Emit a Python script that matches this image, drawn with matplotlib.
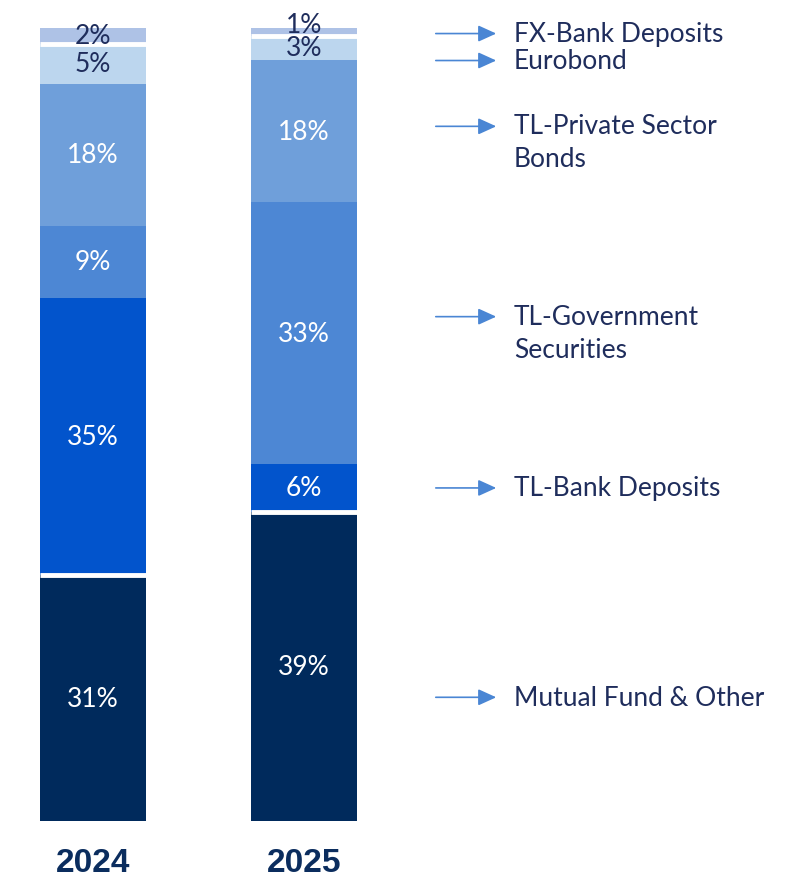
import matplotlib.pyplot as plt

# portfolio composition, bottom segment first
categories = [
    "Mutual Fund & Other",
    "TL-Bank Deposits",
    "TL-Government\nSecurities",
    "TL-Private Sector\nBonds",
    "Eurobond",
    "FX-Bank Deposits",
]
years = ["2024", "2025"]
share_2024 = [31, 35, 9, 18, 5, 2]
share_2025 = [39, 6, 33, 18, 3, 1]

colors = ["#002A5C", "#0254CC", "#4D87D4", "#6F9FDA", "#BCD6EE", "#AEC2E6"]
text_colors = ["white", "white", "white", "white", "#1F2D5C", "#1F2D5C"]
# white separators sit above these segment indices
gaps_after = {"2024": [0, 4], "2025": [0, 4]}

# right-hand labels (y in chart units), arrows point at them
label_y = [15.6, 42.0, 63.6, 87.6, 95.9, 99.3]

NAVY = "#1F2D5C"
ARROW = "#4A86D4"

fig = plt.figure(figsize=(7.95, 8.87), dpi=100)
ax = fig.add_axes([0, 1 - 822 / 887, 1, 793 / 887])
ax.set_xlim(-93 / 211, (795 - 93) / 211)
ax.set_ylim(0, 100)
ax.axis("off")

width = 106 / 211
for i, (year, vals) in enumerate(zip(years, [share_2024, share_2025])):
    bottom = 0
    for j, v in enumerate(vals):
        ax.bar(i, v, width=width, bottom=bottom, color=colors[j], linewidth=0)
        # tiny segments: lift the label so it doesn't sit on its neighbour
        ty = bottom + v / 2 + (1.0 if v <= 1 else 0)
        ax.text(i, ty, f"{v}%", ha="center", va="center",
                fontsize=19, color=text_colors[j], family="Lato")
        bottom += v
        if j in gaps_after[year]:
            ax.plot([i - width / 2, i + width / 2], [bottom, bottom],
                    color="white", lw=3.5, solid_capstyle="butt")
    ax.text(i, -3.3, year, ha="center", va="top", fontsize=24,
            fontweight="bold", color="#0B2D5E", family="Liberation Sans")

tail_x = (433 - 93) / 211
head_x = (499 - 93) / 211
text_x = (514 - 93) / 211
for name, y in zip(categories, label_y):
    ax.annotate("", xy=(head_x, y), xytext=(tail_x, y),
                arrowprops=dict(arrowstyle="-|>,head_length=1.1,head_width=0.5",
                                color=ARROW, lw=1.2))
    first_line_offset = 0 if "\n" not in name else -2.0
    ax.text(text_x, y + first_line_offset, name, ha="left", va="center",
            fontsize=19, color=NAVY, family="Lato", linespacing=1.4)

fig.savefig("out.png", dpi=100)
